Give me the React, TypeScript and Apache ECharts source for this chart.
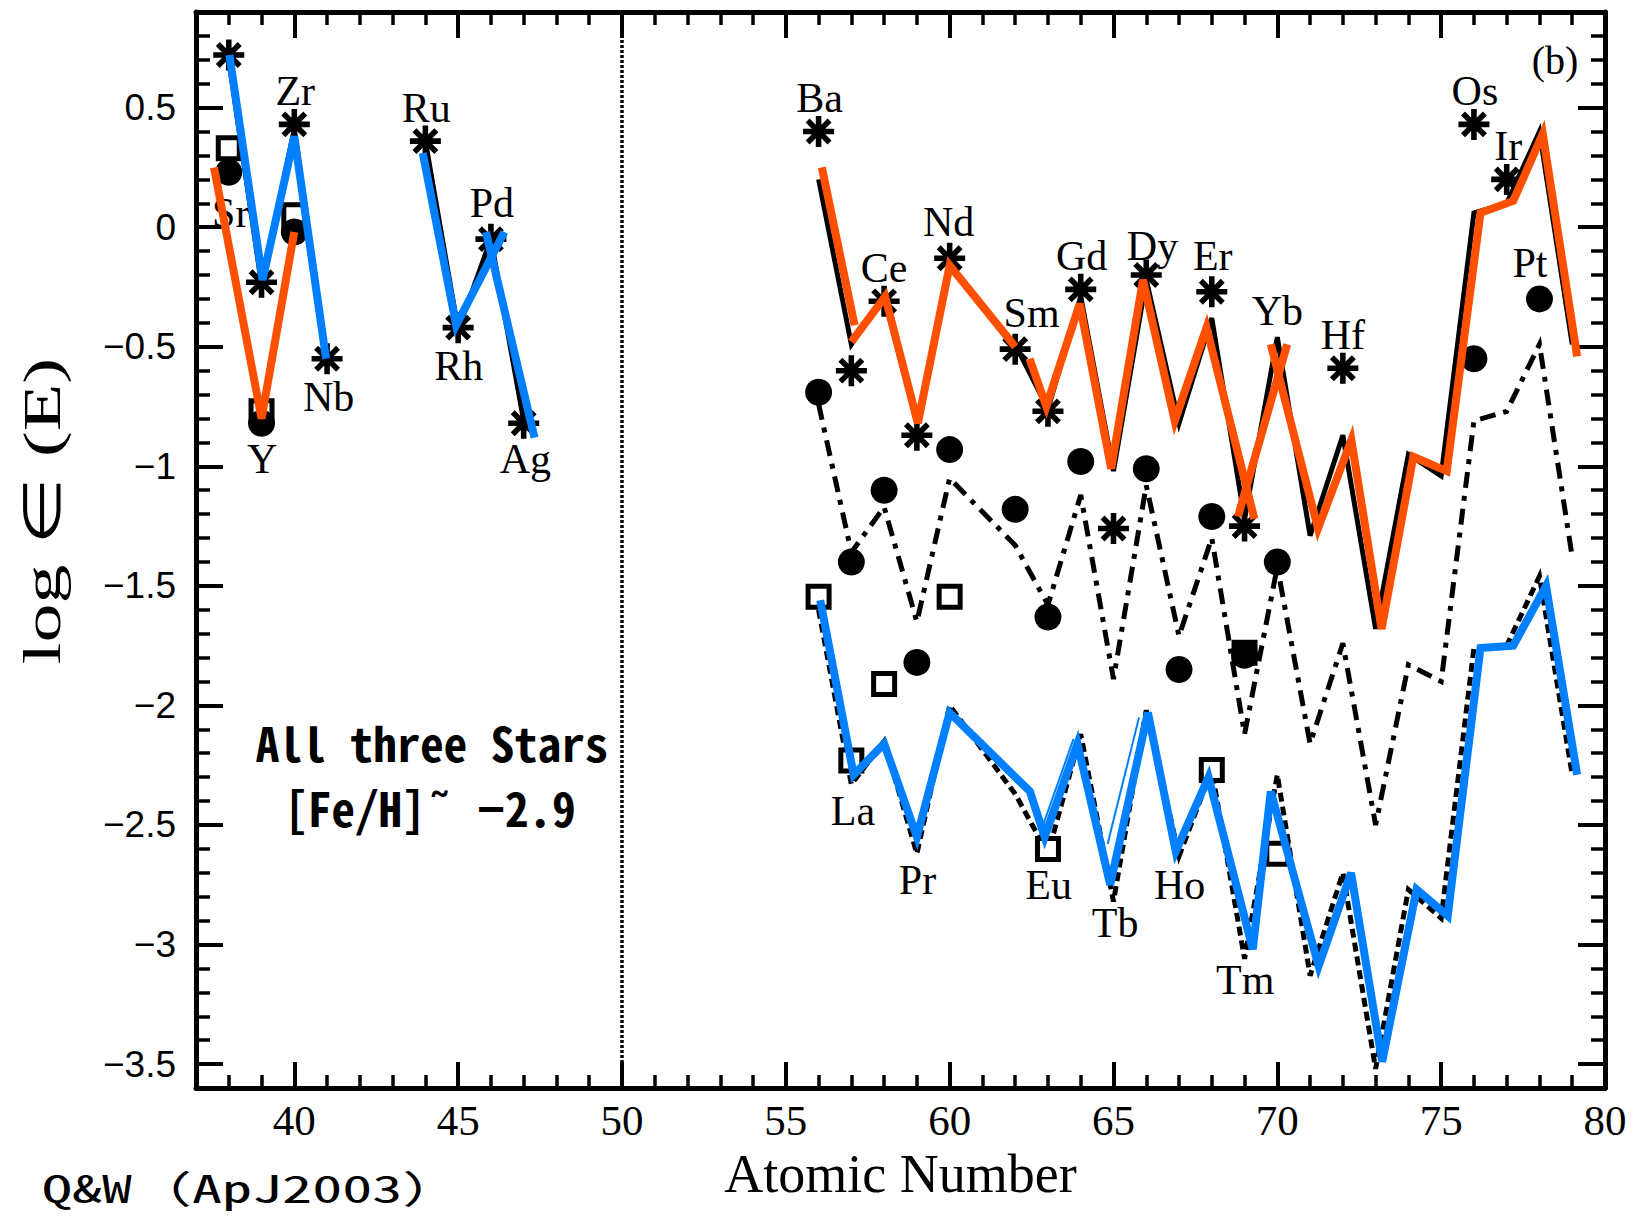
import React, { useEffect, useRef } from "react";
import * as echarts from "echarts";

const W = 1634;
const H = 1216;

// ---------- axes ----------
const xMin = 37;
const xMax = 80;
const yMin = -3.6;
const yMax = 0.9;
const xMajorTicks = [40, 45, 50, 55, 60, 65, 70, 75, 80];
const yMajorTicks = [-3.5, -3, -2.5, -2, -1.5, -1, -0.5, 0, 0.5];

// ---------- observed abundances ----------
// star A (asterisks)
const astZ = [38, 39, 40, 41, 44, 45, 46, 47, 56, 57, 58, 59, 60, 62, 63, 64, 65, 66, 68, 69, 72, 76, 77];
const astV = [0.72, -0.23, 0.43, -0.55, 0.36, -0.42, -0.05, -0.82, 0.40, -0.60, -0.31, -0.87, -0.13, -0.51, -0.77, -0.26, -1.26, -0.20, -0.27, -1.25, -0.59, 0.43, 0.20];
// star B (filled circles)
const circZ = [38, 39, 40, 56, 57, 58, 59, 60, 62, 63, 64, 66, 67, 68, 69, 70, 76, 78];
const circV = [0.23, -0.82, -0.02, -0.69, -1.40, -1.10, -1.82, -0.93, -1.18, -1.63, -0.98, -1.01, -1.85, -1.21, -1.79, -1.40, -0.55, -0.30];
// star C (open squares)
const sqZ = [38, 39, 40, 56, 57, 58, 60, 63, 68, 69, 70];
const sqV = [0.33, -0.77, 0.05, -1.545, -2.23, -1.91, -1.545, -2.60, -2.27, -1.78, -2.62];

// ---------- model curves ----------
const modelZ = [56, 57, 58, 59, 60, 62, 63, 64, 65, 66, 67, 68, 69, 70, 71, 72, 73, 74, 75, 76, 77, 78, 79];
const solidV = [0.20, -0.49, -0.29, -0.82, -0.17, -0.49, -0.76, -0.29, -1.02, -0.22, -0.82, -0.38, -1.22, -0.46, -1.29, -0.87, -1.68, -0.95, -1.04, 0.06, 0.10, 0.40, -0.49];
const dashBV = [-0.74, -1.36, -1.17, -1.65, -1.05, -1.33, -1.58, -1.12, -1.89, -1.08, -1.71, -1.30, -2.12, -1.42, -2.16, -1.74, -2.50, -1.83, -1.90, -0.81, -0.77, -0.49, -1.38];
const dashCV = [-1.60, -2.33, -2.15, -2.62, -2.00, -2.37, -2.62, -2.12, -2.82, -2.02, -2.63, -2.27, -3.06, -2.29, -3.13, -2.70, -3.52, -2.77, -2.89, -1.76, -1.75, -1.46, -2.29];
const solidLeft1 = [[38, 0.70], [39, -0.24], [40, 0.41], [41, -0.56]];
const solidLeft2 = [[44, 0.36], [45, -0.43], [46, -0.05], [47, -0.81]];

// hand-drawn coloured overlays
const orangeLeft = [[37.55, 0.25], [39.0, -0.80], [40.0, -0.02]];
const orangeA = [[56.1, 0.25], [57.1, -0.41]];
const orangeB = [[57.0, -0.48], [58.03, -0.29], [59.03, -0.82], [60.0, -0.16], [62.0, -0.50]];
const orangeC = [[62.44, -0.55], [62.95, -0.75], [63.97, -0.32], [64.93, -1.01], [65.9, -0.22], [66.87, -0.81], [67.84, -0.42], [69.3, -1.22]];
const orangeD = [[68.8, -1.21], [70.3, -0.49]];
const orangeE = [[69.8, -0.49], [71.24, -1.26], [72.26, -0.89], [73.18, -1.68], [74.15, -0.96], [75.17, -1.02], [76.2, 0.06], [77.2, 0.11], [78.1, 0.39], [79.15, -0.54]];
const blueL1 = [[38.02, 0.72], [39.03, -0.22], [40.0, 0.38], [40.97, -0.55]];
const blueL2 = [[43.92, 0.31], [44.94, -0.41], [46.41, -0.02]];
const blueL3 = [[45.85, -0.02], [47.33, -0.88]];
const blueR = [[56.05, -1.56], [57.07, -2.29], [58.0, -2.16], [59.0, -2.55], [60.0, -2.03], [62.45, -2.36], [62.9, -2.55], [63.9, -2.16], [64.9, -2.75], [66.05, -2.03], [66.9, -2.61], [67.9, -2.30], [69.25, -3.02], [69.8, -2.36], [71.26, -3.09], [72.25, -2.70], [73.2, -3.49], [74.25, -2.77], [75.2, -2.88], [76.2, -1.76], [77.2, -1.75], [78.2, -1.50], [79.15, -2.29]];
const blueThin1 = [[62.8, -2.52], [63.78, -2.14]];
const blueThin2 = [[64.82, -2.58], [65.78, -2.05]];

// ---------- element labels ----------
const labelNames = ["Sr", "Y", "Zr", "Nb", "Ru", "Rh", "Pd", "Ag", "Ba", "La", "Ce", "Pr", "Nd", "Sm", "Eu", "Gd", "Tb", "Dy", "Ho", "Er", "Tm", "Yb", "Hf", "Os", "Ir", "Pt"];
const labelX = [38.06, 39.02, 40.03, 41.05, 44.03, 45.02, 46.03, 47.05, 56.03, 57.05, 58.0, 59.02, 59.97, 62.5, 63.02, 64.03, 65.05, 66.19, 67.02, 68.03, 69.02, 70.0, 72.0, 76.03, 77.05, 77.71];
const labelY = [0.06, -0.97, 0.57, -0.71, 0.50, -0.58, 0.10, -0.97, 0.54, -2.44, -0.17, -2.73, 0.02, -0.36, -2.75, -0.12, -2.91, -0.08, -2.75, -0.12, -3.15, -0.35, -0.45, 0.57, 0.34, -0.15];

const ORANGE = "#FF4F00";
const BLUE = "#0080FF";
const SERIF = '"Liberation Serif", "Times New Roman", serif';
const SANS = '"Liberation Sans", Arial, sans-serif';
const GOTHIC = '"Noto Sans Mono CJK JP", "Noto Sans CJK JP", monospace';

function asteriskPath(): string {
  const w = 0.36;
  let d = "";
  for (let k = 0; k < 4; k++) {
    const a = (k * Math.PI) / 4;
    const c = Math.cos(a);
    const s = Math.sin(a);
    const pts = [
      [-1, -w / 2],
      [1, -w / 2],
      [1, w / 2],
      [-1, w / 2],
    ].map(([x, y]) => [50 + 50 * (x * c - y * s), 50 + 50 * (x * s + y * c)]);
    d += "M" + pts.map((p) => p[0].toFixed(2) + " " + p[1].toFixed(2)).join(" L") + " Z ";
  }
  return "path://" + d;
}

const zip = (xs: number[], ys: number[]) => xs.map((x, i) => [x, ys[i]]);

function lineS(data: number[][], color: string, width: number, type: any, z: number) {
  return {
    type: "line",
    data,
    symbol: "none",
    showSymbol: false,
    silent: true,
    z,
    lineStyle: { color, width, type, opacity: 1, cap: "butt", join: "miter" },
  };
}

function yFmt(v: number): string {
  const t = Math.round(v * 10) / 10;
  if (Math.abs(t * 2 - Math.round(t * 2)) > 1e-6) return "";
  if (Math.abs(t) < 1e-9) return "0";
  return t < 0 ? "\u2212" + String(Math.abs(t)) : String(t);
}

function buildOption(): any {
  const frame = { show: true, onZero: false, lineStyle: { color: "#000", width: 5 } };
  const minorTick = { show: true, inside: true, length: 13, lineStyle: { color: "#000", width: 3.5 } };
  const majorTickLen = 26;
  const xBase = { type: "value", min: xMin, max: xMax, splitLine: { show: false } };
  const yBase = { type: "value", min: yMin, max: yMax, splitLine: { show: false } };

  return {
    animation: false,
    backgroundColor: "#fff",
    grid: { left: 196, right: 29, top: 12, bottom: 128, containLabel: false },
    xAxis: [
      {
        ...xBase,
        position: "bottom",
        interval: 1,
        axisLine: frame,
        axisTick: minorTick,
        axisLabel: {
          formatter: (v: number) => (Math.round(v) % 5 === 0 ? String(Math.round(v)) : ""),
          fontFamily: SERIF,
          fontSize: 43,
          color: "#000",
          margin: 11,
        },
        name: "Atomic Number",
        nameLocation: "middle",
        nameGap: 50,
        nameTextStyle: { fontFamily: SERIF, fontSize: 54, color: "#000" },
      },
      {
        ...xBase,
        position: "bottom",
        axisLine: { show: false, onZero: false },
        axisTick: { show: true, inside: true, length: majorTickLen, customValues: xMajorTicks, lineStyle: { color: "#000", width: 4 } },
        axisLabel: { show: false },
      },
      {
        ...xBase,
        position: "top",
        interval: 1,
        axisLine: frame,
        axisTick: minorTick,
        axisLabel: { show: false },
      },
      {
        ...xBase,
        position: "top",
        axisLine: { show: false, onZero: false },
        axisTick: { show: true, inside: true, length: majorTickLen, customValues: xMajorTicks, lineStyle: { color: "#000", width: 4 } },
        axisLabel: { show: false },
      },
    ],
    yAxis: [
      {
        ...yBase,
        position: "left",
        interval: 0.1,
        axisLine: frame,
        axisTick: { ...minorTick, length: 14 },
        axisLabel: { formatter: yFmt, fontFamily: SANS, fontSize: 37, color: "#000", margin: 20 },
      },
      {
        ...yBase,
        position: "left",
        axisLine: { show: false, onZero: false },
        axisTick: { show: true, inside: true, length: 27, customValues: yMajorTicks, lineStyle: { color: "#000", width: 4 } },
        axisLabel: { show: false },
      },
      {
        ...yBase,
        position: "right",
        interval: 0.1,
        axisLine: frame,
        axisTick: { ...minorTick, length: 14 },
        axisLabel: { show: false },
      },
      {
        ...yBase,
        position: "right",
        axisLine: { show: false, onZero: false },
        axisTick: { show: true, inside: true, length: 27, customValues: yMajorTicks, lineStyle: { color: "#000", width: 4 } },
        axisLabel: { show: false },
      },
    ],
    series: [
      {
        ...lineS(solidLeft1, "#000", 5, "solid", 2),
        markLine: {
          silent: true,
          symbol: ["none", "none"],
          label: { show: false },
          lineStyle: { color: "#000", width: 3.5, type: [3, 2], opacity: 1 },
          data: [{ xAxis: 50 }],
        },
      },
      lineS(solidLeft2, "#000", 5, "solid", 2),
      lineS(zip(modelZ, solidV), "#000", 5, "solid", 2),
      lineS(zip(modelZ, dashBV), "#000", 5, [16, 8, 5, 8], 2),
      lineS(zip(modelZ, dashCV), "#000", 5, [9, 5], 2),
      {
        type: "scatter",
        data: zip(sqZ, sqV),
        symbol: "rect",
        symbolSize: 21,
        silent: true,
        z: 3,
        itemStyle: { color: "#fff", borderColor: "#000", borderWidth: 5, opacity: 1 },
      },
      {
        type: "scatter",
        data: zip(circZ, circV),
        symbol: "circle",
        symbolSize: 27,
        silent: true,
        z: 3,
        itemStyle: { color: "#000", opacity: 1 },
      },
      {
        type: "scatter",
        data: zip(astZ, astV),
        symbol: asteriskPath(),
        symbolSize: 31,
        silent: true,
        z: 3,
        itemStyle: { color: "#000", opacity: 1 },
      },
      {
        type: "scatter",
        data: labelNames.map((n, i) => ({ name: n, value: [labelX[i], labelY[i]] })),
        symbolSize: 1,
        silent: true,
        z: 4,
        itemStyle: { color: "rgba(255,255,255,0)", opacity: 1 },
        label: {
          show: true,
          position: "inside",
          formatter: "{b}",
          fontFamily: SERIF,
          fontSize: 42,
          color: "#000",
          opacity: 1,
          textBorderWidth: 0,
        },
      },
      lineS(orangeLeft, ORANGE, 8, "solid", 5),
      lineS(orangeA, ORANGE, 8, "solid", 5),
      lineS(orangeB, ORANGE, 8, "solid", 5),
      lineS(orangeC, ORANGE, 8, "solid", 5),
      lineS(orangeD, ORANGE, 8, "solid", 5),
      lineS(orangeE, ORANGE, 8, "solid", 5),
      lineS(blueL1, BLUE, 8, "solid", 5),
      lineS(blueL2, BLUE, 8, "solid", 5),
      lineS(blueL3, BLUE, 8, "solid", 5),
      lineS(blueR, BLUE, 8, "solid", 5),
      lineS(blueThin1, BLUE, 2, "solid", 5),
      lineS(blueThin2, BLUE, 2, "solid", 5),
    ],
    graphic: [
      {
        type: "text",
        x: 42,
        y: 511,
        rotation: Math.PI / 2,
        scaleX: 1.5,
        style: {
          text: "log \u2208 (E)",
          font: `52px ${SERIF}`,
          fill: "#000",
          textAlign: "center",
          textVerticalAlign: "middle",
        },
      },
      {
        type: "text",
        x: 1555,
        y: 60,
        style: { text: "(b)", font: `40px ${SERIF}`, fill: "#000", textAlign: "center", textVerticalAlign: "middle" },
      },
      {
        type: "text",
        x: 432,
        y: 741,
        style: { text: "All three Stars", font: `bold 47px ${GOTHIC}`, fill: "#000", textAlign: "center", textVerticalAlign: "middle" },
      },
      {
        type: "text",
        x: 430,
        y: 806,
        style: { text: "[Fe/H]\u02DC \u22122.9", font: `bold 47px ${GOTHIC}`, fill: "#000", textAlign: "center", textVerticalAlign: "middle" },
      },
      {
        type: "text",
        x: 42,
        y: 1186,
        scaleX: 1.58,
        style: { text: "Q&W\uFF08ApJ2003\uFF09", font: `38px ${GOTHIC}`, fill: "#000", textAlign: "left", textVerticalAlign: "middle" },
      },
    ],
  };
}

export default function App() {
  const ref = useRef<HTMLDivElement>(null);
  useEffect(() => {
    if (!ref.current) return;
    const chart = echarts.init(ref.current, null, { renderer: "svg", width: W, height: H });
    chart.setOption(buildOption());
    return () => chart.dispose();
  }, []);
  return (
    <div
      ref={ref}
      style={{ position: "fixed", left: 0, top: 0, width: W, height: H, background: "#fff" }}
    />
  );
}
